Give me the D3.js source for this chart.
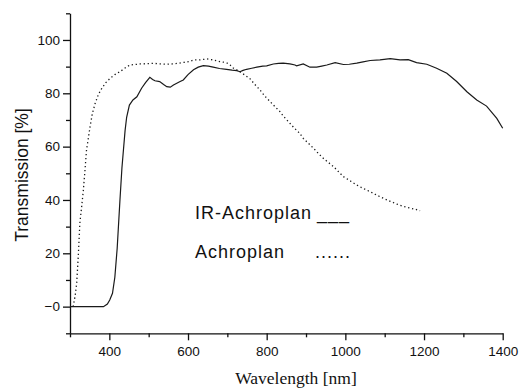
<!DOCTYPE html>
<html>
<head>
<meta charset="utf-8">
<script src="https://cdn.jsdelivr.net/npm/d3@7"></script>
<style>
    body { margin: 0; background: #fff; }
    svg { display: block; }
    .tick text { font-family: "Liberation Sans", Arial, sans-serif; font-size: 13.5px; fill: #111; }
    .domain, .tick line { stroke: #111; stroke-width: 1.3; }
</style>
</head>
<body>
<svg id="chart" width="519" height="388"></svg>
<script>
// IR-Achroplan (solid)
const irWavelength = [300, 385, 395, 401, 408, 414, 420, 427, 432, 436, 440, 444, 451, 460, 470, 482, 492, 503, 510, 516,
    528, 538, 546, 555, 563, 580, 588, 600, 614, 626, 639, 652, 664, 680, 698, 712, 724, 732, 740, 749,
    762, 775, 790, 800, 817, 830, 842, 859, 872, 876, 893, 910, 927, 940, 953, 974, 995, 1010, 1029, 1045,
    1063, 1088, 1114, 1139, 1160, 1181, 1207, 1232, 1258, 1283, 1309, 1334, 1359, 1385, 1400];
const irValues = [0, 0, 1, 2.5, 5, 11, 22, 40, 52, 59, 66, 71, 75.6, 77.5, 78.7, 81.9, 84, 86, 85.2, 84.7,
    84.4, 83.3, 82.5, 82.3, 83.1, 84.4, 85, 87, 88.8, 89.8, 90.4, 90.2, 89.8, 89.3, 89, 88.7, 88.5, 88.1, 88.6, 89,
    89.4, 89.8, 90.2, 90.3, 91, 91.2, 91.3, 91, 90.6, 90.3, 91, 89.8, 89.8, 90.2, 90.6, 91.5, 90.8, 90.9, 91.3, 91.8,
    92.3, 92.5, 93, 92.5, 92.6, 91.5, 90.9, 89.4, 87.5, 84.4, 80.6, 77.5, 75.2, 70.6, 66.9];

// Achroplan (dotted)
const achWavelength = [308, 313, 317, 321, 325, 330, 334, 338, 342, 347, 351, 357, 364, 372, 381, 391, 402, 414, 427, 440,
    452, 465, 478, 495, 512, 530, 546, 560, 575, 590, 605, 614, 630, 648, 665, 681, 698, 707, 715, 732,
    745, 758, 770, 783, 795, 808, 817, 834, 842, 859, 868, 884, 893, 919, 931, 944, 970, 995, 1012, 1029,
    1046, 1063, 1080, 1097, 1114, 1130, 1145, 1156, 1175, 1190];
const achValues = [0, 4, 8.75, 18.75, 31.25, 38, 43.75, 51, 58.75, 63.5, 67.5, 72.5, 76.25, 79.5, 81.9, 84, 85.6, 87, 88.1, 89.5,
    90.6, 90.8, 91, 91.1, 91.25, 91, 90.9, 91, 91.25, 91.6, 92, 92.5, 92.5, 92.9, 92.5, 91.9, 91.5, 90.6, 89.5, 88.1,
    86.8, 85.4, 83.3, 81.25, 79, 77, 75.6, 73.1, 71.5, 68.75, 67.3, 65, 63.1, 59.4, 57.5, 55.6, 52.5, 48.75, 47.2, 45.6,
    44.3, 43.1, 41.8, 40.6, 39.5, 38.5, 37.7, 37.25, 36.6, 36];

const xMajorTicks = [400, 600, 800, 1000, 1200, 1400];
const xMinorTicks = [300, 500, 700, 900, 1100, 1300];
const yMajorTicks = [0, 20, 40, 60, 80, 100];
const yTickLabels = ['\u22120', '20', '40', '60', '80', '100'];
const yMinorTicks = [-10, 10, 30, 50, 70, 90, 110];

const svg = d3.select('#chart');

const xScale = d3.scaleLinear().domain([300, 1400]).range([70, 502.7]);
const yScale = d3.scaleLinear().domain([-10, 110]).range([333.3, 13.3]);

// x axis
svg.append('g')
    .attr('transform', `translate(0, ${yScale(-10)})`)
    .call(d3.axisBottom(xScale).tickValues(xMinorTicks).tickSize(4).tickSizeOuter(0).tickFormat(''));
svg.append('g')
    .attr('transform', `translate(0, ${yScale(-10)})`)
    .call(d3.axisBottom(xScale).tickValues(xMajorTicks).tickSize(7).tickSizeOuter(0).tickPadding(6).tickFormat(d3.format('d')))
    .select('.domain').remove();

// y axis
svg.append('g')
    .attr('transform', `translate(${xScale(300)}, 0)`)
    .call(d3.axisLeft(yScale).tickValues(yMinorTicks).tickSize(4).tickSizeOuter(0).tickFormat(''));
svg.append('g')
    .attr('transform', `translate(${xScale(300)}, 0)`)
    .call(d3.axisLeft(yScale).tickValues(yMajorTicks).tickSize(7).tickSizeOuter(0).tickPadding(3)
        .tickFormat((d, i) => yTickLabels[i]))
    .select('.domain').remove();

const line = d3.line()
    .x(d => xScale(d[0]))
    .y(d => yScale(d[1]));

svg.append('path')
    .datum(irWavelength.map((w, i) => [w, irValues[i]]))
    .attr('fill', 'none')
    .attr('stroke', '#1a1a1a')
    .attr('stroke-width', 1.2)
    .attr('d', line);

svg.append('path')
    .datum(achWavelength.map((w, i) => [w, achValues[i]]))
    .attr('fill', 'none')
    .attr('stroke', '#1a1a1a')
    .attr('stroke-width', 1.3)
    .attr('stroke-dasharray', '1.3,2.7')
    .attr('d', line);

// axis titles
svg.append('text')
    .attr('transform', 'translate(28, 175) rotate(-90)')
    .attr('text-anchor', 'middle')
    .style('font-family', '"Liberation Sans", Arial, sans-serif')
    .style('font-size', '17.5px')
    .attr('fill', '#111')
    .text('Transmission [%]');

svg.append('text')
    .attr('x', 296)
    .attr('y', 384)
    .attr('text-anchor', 'middle')
    .style('font-family', '"Liberation Serif", "Times New Roman", serif')
    .style('font-size', '17.5px')
    .attr('fill', '#111')
    .text('Wavelength [nm]');

// legend
const legend = svg.append('g')
    .style('font-family', '"Liberation Sans", Arial, sans-serif')
    .style('font-size', '18px')
    .style('letter-spacing', '1px')
    .attr('fill', '#111');
legend.append('text').attr('x', 195).attr('y', 219).text('IR-Achroplan');
legend.append('text').attr('x', 317).attr('y', 219).text('___');
legend.append('text').attr('x', 195).attr('y', 258).text('Achroplan');
legend.append('text').attr('x', 315).attr('y', 258).text('......');
</script>
</body>
</html>
